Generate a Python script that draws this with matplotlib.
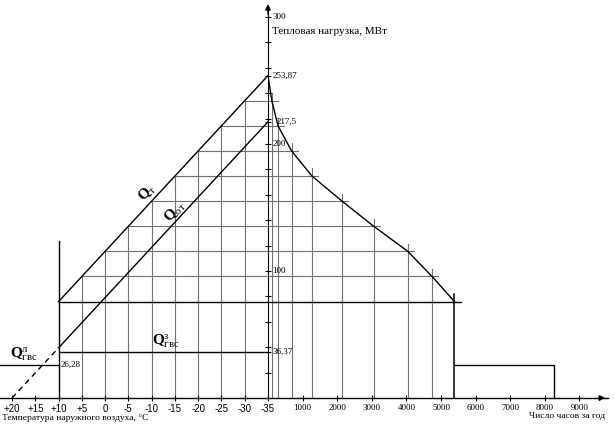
import matplotlib

matplotlib.use("agg")  # no display in the sandbox
import matplotlib.pyplot as plt

plt.rcParams["font.family"] = ["Liberation Serif", "DejaVu Serif"]
plt.rcParams["mathtext.fontset"] = "custom"
plt.rcParams["mathtext.rm"] = "Liberation Serif"
plt.rcParams["mathtext.bf"] = "Liberation Serif:bold"
plt.rcParams["mathtext.it"] = "Liberation Serif:italic"

# --- data ---
# outdoor temperature steps and total heat load at each step (Q_t line)
temps = [-35, -30, -25, -20, -15, -10, -5, 0, 5, 10]
q_total = [253.87, 234.1, 214.3, 194.6, 174.8, 155.0, 135.3, 115.5, 95.7, 75.9]
# hours per year with temperature at or below each step (duration curve)
hours = [0, 110, 290, 680, 1270, 2140, 3050, 4040, 4740, 5390]
# heating-only load line Q_ot (dashed part from +20 to +10)
heat_t = [20, 10, -35]
heat_q = [0, 39.5, 217.5]
q_hw_winter = 36.37
q_hw_summer = 26.28
summer_end = 8260
t_ticks = [20, 15, 10, 5, 0, -5, -10, -15, -20, -25, -30, -35]
t_labels = ["+20", "+15", "+10", "+5", "0", "-5", "-10", "-15", "-20", "-25", "-30", "-35"]
h_ticks = [1000, 2000, 3000, 4000, 5000, 6000, 7000, 8000, 9000]
q_ticks = list(range(20, 301, 20))
q_labels = {300: "300", 200: "200", 100: "100", 253.87: "253,87", 217.5: "217,5", 36.37: "36,37"}

# --- layout in pixels of the 615x429 canvas ---
W, H = 615, 429
X0, Y0 = 268, 398          # origin (y axis / x axis)
PX_DEG = 4.6545            # px per degree C
PX_H = 0.0346              # px per hour
PX_MW = 1.27               # px per MW
X_END = 608                # arrow tip of the hours axis

GRID = "#707070"
ylim = (-(H - Y0) / PX_MW, Y0 / PX_MW)

fig = plt.figure(figsize=(W / 100, H / 100), dpi=100)
ax_l = fig.add_axes([0, 0, X0 / W, 1])
ax_r = fig.add_axes([X0 / W, 0, (X_END - X0) / W, 1])
ax_l.set_xlim(-35 + X0 / PX_DEG, -35)
ax_r.set_xlim(0, (X_END - X0) / PX_H)
for ax in (ax_l, ax_r):
    ax.set_ylim(*ylim)
    ax.patch.set_alpha(0)
    for side in ("top", "right", "left"):
        ax.spines[side].set_visible(False)
    ax.spines["bottom"].set_position(("data", 0))
    ax.spines["bottom"].set_linewidth(1.0)
    ax.tick_params(axis="x", direction="inout", length=5, width=0.8, pad=1.5)
    ax.set_yticks([])

# left part: temperature axis
ax_l.set_xticks(t_ticks)
ax_l.set_xticklabels(t_labels, fontfamily="Liberation Sans", fontsize=7)

# right part: hours axis + heat load axis
ax_r.set_xticks(h_ticks)
ax_r.set_xticklabels([str(h) for h in h_ticks], fontsize=6.5)
ax_r.spines["left"].set_visible(True)
ax_r.spines["left"].set_bounds(0, 306)
ax_r.set_yticks(q_ticks + [253.87, 217.5, 36.37])
ax_r.set_yticklabels([])
ax_r.tick_params(axis="y", direction="inout", length=5, width=0.8)
ax_r.annotate("", xy=(0, ylim[1] - 1), xytext=(0, 300),
              arrowprops=dict(arrowstyle="-|>", color="k", lw=1, mutation_scale=8),
              annotation_clip=False)
ax_r.annotate("", xy=(ax_r.get_xlim()[1], 0), xytext=(9500, 0),
              arrowprops=dict(arrowstyle="-|>", color="k", lw=1, mutation_scale=8),
              annotation_clip=False)
for v, txt in q_labels.items():
    dx = 6 if v == 217.5 else 3
    ax_r.annotate(txt, xy=(0, v), xytext=(dx, 0), textcoords="offset points",
                  ha="left", va="center", fontsize=6.5)

# --- left graph: load vs outdoor temperature ---
for t, q in zip(temps[1:-1], q_total[1:-1]):
    ax_l.plot([t, t], [0, q], color=GRID, lw=0.8, zorder=1)
for t, q in zip(temps[1:], q_total[1:]):
    col = "k" if t == temps[-1] else GRID
    ax_l.plot([t, -35], [q, q], color=col, lw=0.8 if col == GRID else 1, zorder=1)
ax_l.plot([temps[-1], temps[0]], [q_total[-1], q_total[0]], color="k", lw=1, zorder=3)
ax_l.plot(heat_t[1:], heat_q[1:], color="k", lw=1, zorder=3)
ax_l.plot(heat_t[:2], heat_q[:2], color="k", lw=1, ls=(0, (4, 3)), zorder=3)
ax_l.plot([temps[-1], temps[-1]], [0, 124], color="k", lw=1, zorder=3)
ax_l.plot([temps[-1], -35], [q_hw_winter, q_hw_winter], color="k", lw=1, zorder=3)
ax_l.plot([ax_l.get_xlim()[0], temps[-1]], [q_hw_summer, q_hw_summer], color="k", lw=1, zorder=3)
ax_l.annotate("26,28", xy=(temps[-1], q_hw_summer), xytext=(1.5, 0),
              textcoords="offset points", ha="left", va="center", fontsize=6.5)

# --- right graph: load duration curve ---
for h, q in zip(hours[1:], q_total[1:]):
    col = "k" if h == hours[-1] else GRID
    ax_r.plot([0, h + 180], [q, q], color=col, lw=0.8 if col == GRID else 1, zorder=1)
    ax_r.plot([h, h], [0, q + 6], color=col, lw=0.8 if col == GRID else 1.1, zorder=1)
ax_r.plot(hours, q_total, color="k", lw=1, zorder=3)
ax_r.plot([hours[-1], summer_end, summer_end], [q_hw_summer, q_hw_summer, 0],
          color="k", lw=1, zorder=3)

# --- curve names ---
ax_l.text(-9.2, 162, r"$\mathbf{Q}_{\mathrm{т}}$", rotation=47, rotation_mode="anchor",
          ha="center", va="center", fontsize=11)
ax_l.text(-15.0, 147, r"$\mathbf{Q}_{\mathrm{от}}$", rotation=47, rotation_mode="anchor",
          ha="center", va="center", fontsize=11)
ax_l.text(-10.1, 38.0, r"$\mathbf{Q}^{\mathrm{з}}_{\mathrm{гвс}}$", ha="left", va="bottom",
          fontsize=11)
ax_l.text(20.4, 27.5, r"$\mathbf{Q}^{\mathrm{л}}_{\mathrm{гвс}}$", ha="left", va="bottom",
          fontsize=11)

# --- axis titles ---
fig.text(272 / W, 1 - 31 / H, "Тепловая нагрузка, МВт", ha="left", va="center", fontsize=8)
fig.text(2 / W, 1 - 418 / H, "Температура наружного воздуха, °С", ha="left", va="center",
         fontsize=6.8)
fig.text(605 / W, 1 - 411.5 / H, "Число часов за год", ha="right", va="top", fontsize=6.8)

fig.savefig("out.png", dpi=100, facecolor="white")
plt.close(fig)
